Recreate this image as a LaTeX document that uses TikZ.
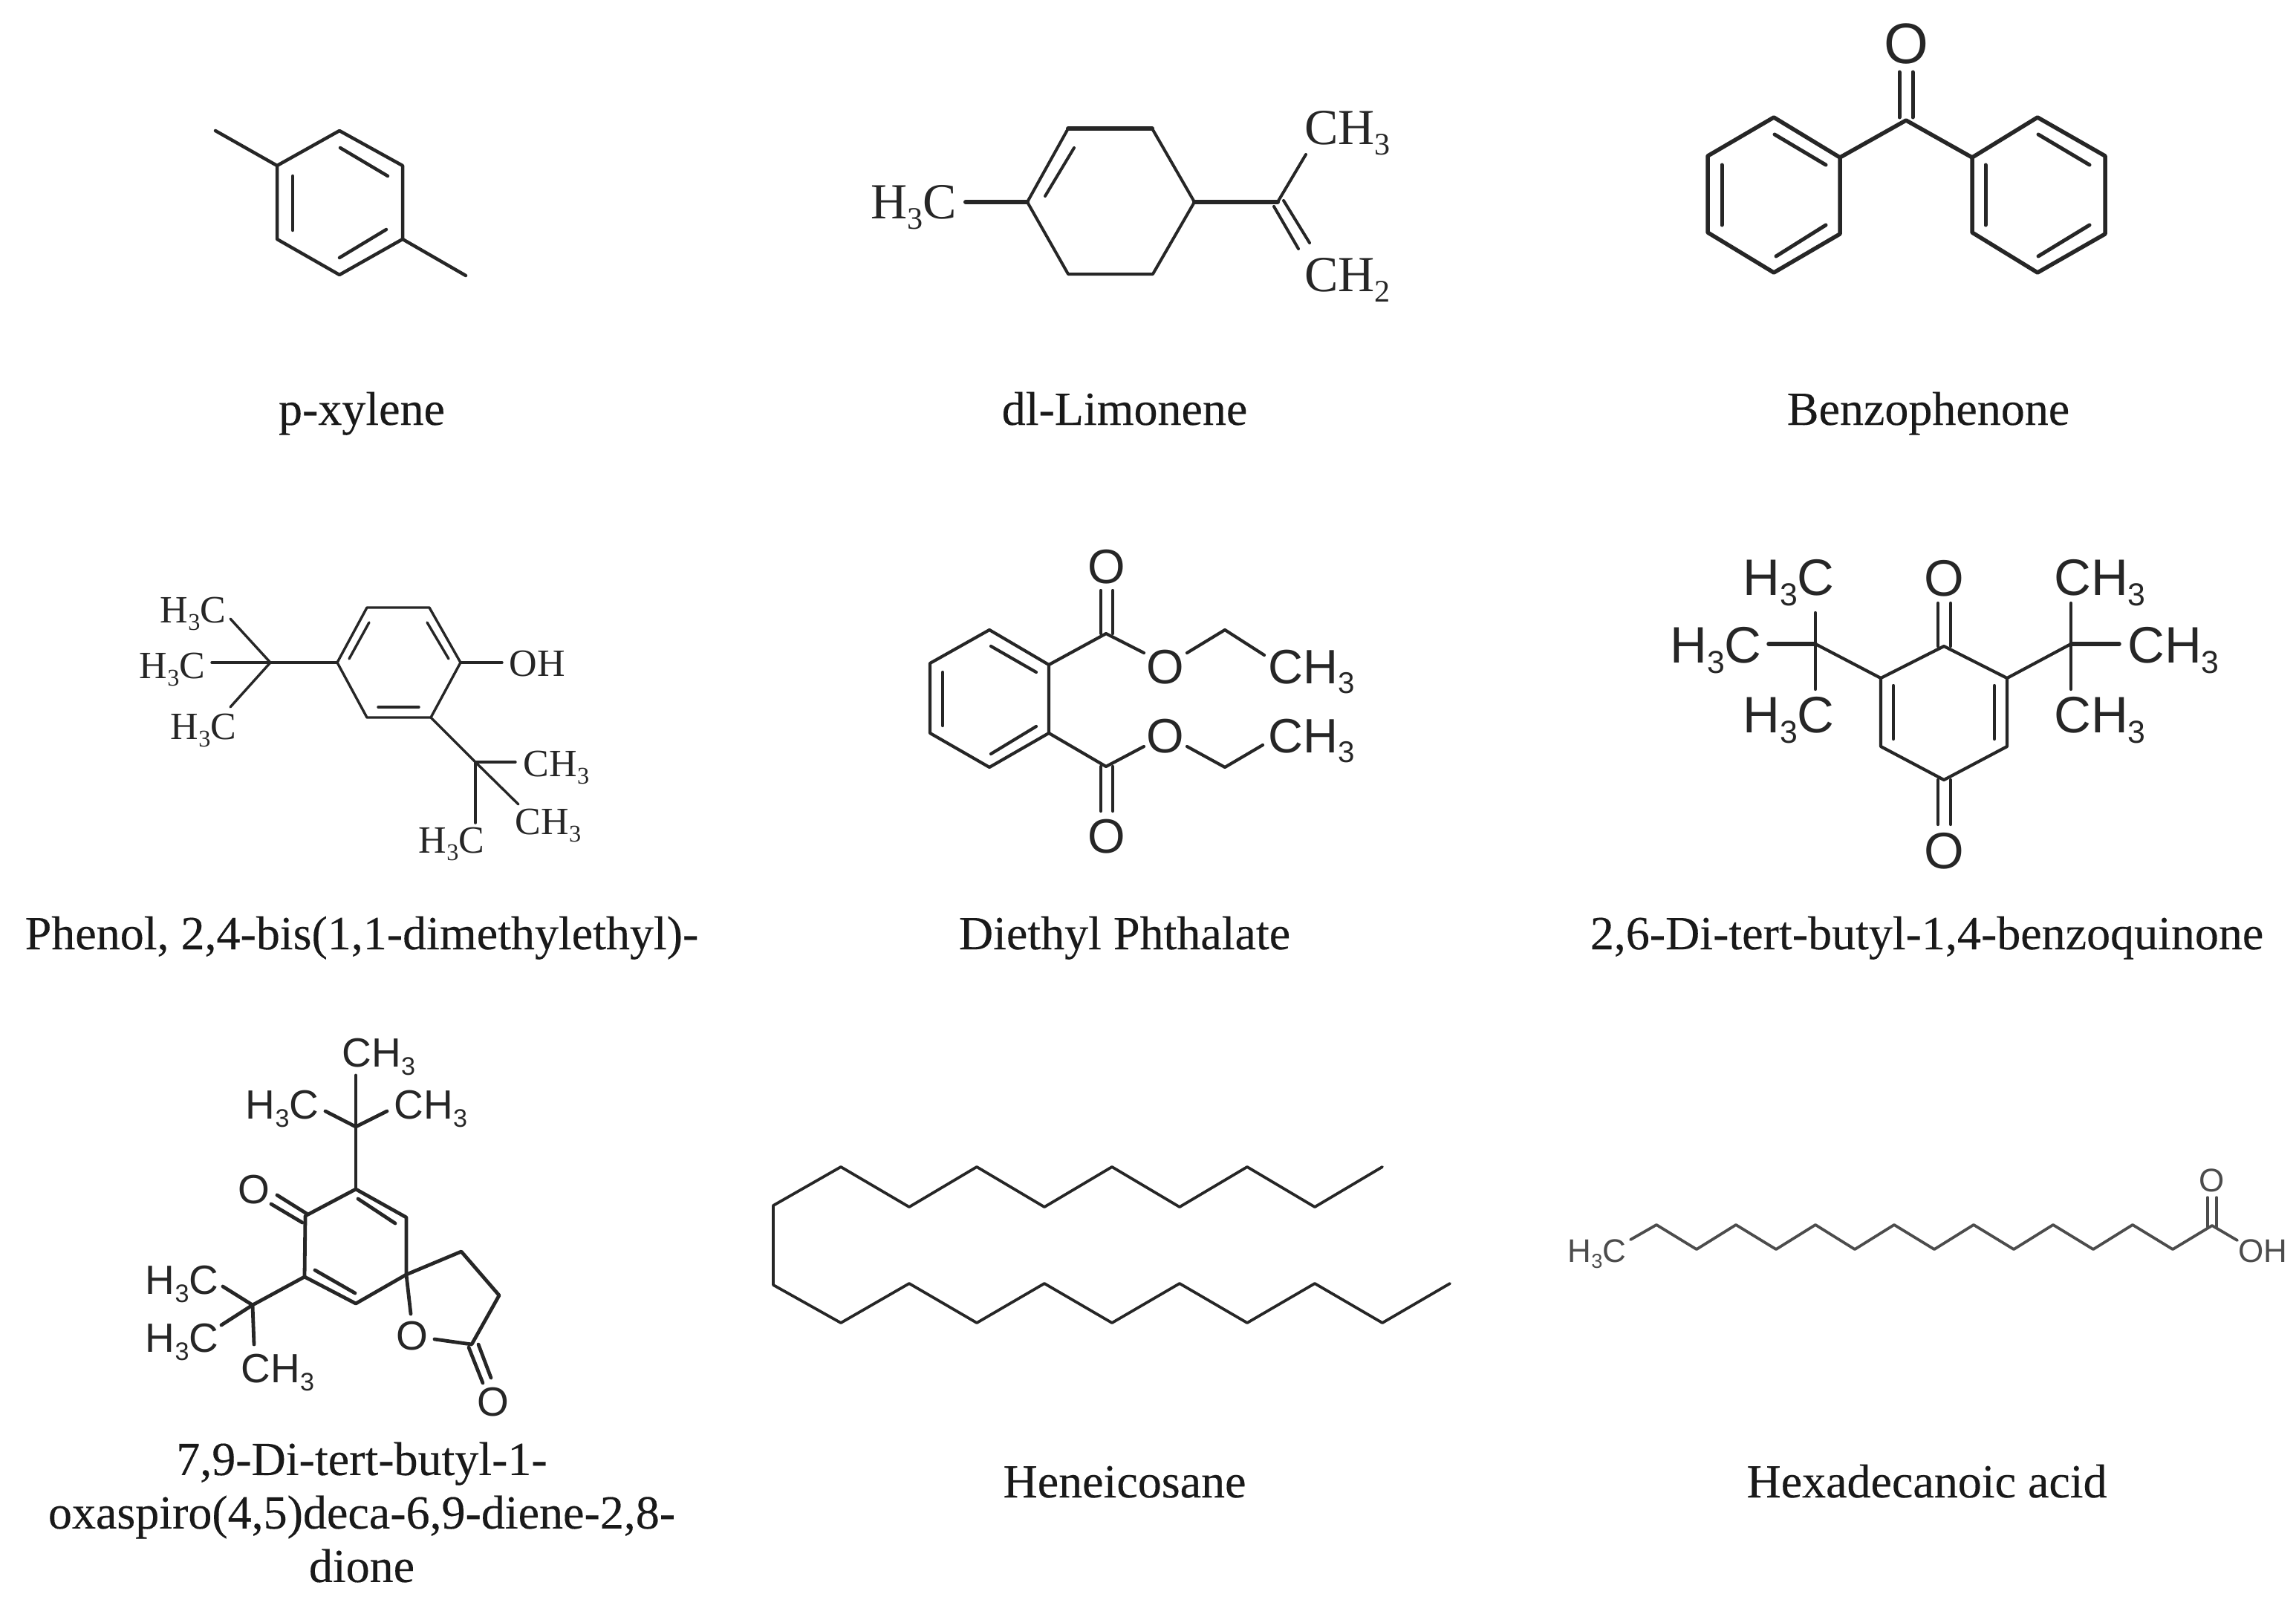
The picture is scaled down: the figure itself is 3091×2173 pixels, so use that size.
\documentclass[tikz,border=0pt]{standalone}
\usepackage{fontspec}
\setmainfont{Liberation Serif}
\newfontfamily\molsans{Liberation Sans}
\newfontfamily\capserif[FakeBold=0.25]{Liberation Serif}
\newcommand{\subn}[1]{\raisebox{-0.2em}{\scalebox{0.62}{#1}}}
\definecolor{inkline}{HTML}{262626}
\tikzset{
  bond/.style={draw=inkline, line width=#1, line cap=round, line join=round},
  bond/.default=4.5pt,
  serifatom/.style 2 args={font=\fontsize{#1}{#1}\selectfont, text=inkline, text height=#2, text depth=0pt},
  sansatom/.style 2 args={font=\molsans\fontsize{#1}{#1}\selectfont, text=inkline, text height=#2, text depth=0pt},
  caption/.style={font=\capserif\fontsize{64}{72}\selectfont, text=black!90, align=center, anchor=base}
}
\begin{document}
\begin{tikzpicture}[x=1pt, y=-1pt, every node/.style={inner sep=0pt, outer sep=0pt}]
\useasboundingbox (0,0) rectangle (3091,2173);
% p-xylene
\coordinate (G1N1) at (373,223);
\coordinate (G1N2) at (457,176);
\coordinate (G1N3) at (542,223);
\coordinate (G1N4) at (542,322);
\coordinate (G1N5) at (457,370);
\coordinate (G1N6) at (373,322);
\coordinate (G1M1) at (290,176);
\coordinate (G1M2) at (627,371);
\coordinate (G1I1) at (394,237);
\coordinate (G1I2) at (394,310);
\coordinate (G1I3) at (458,199);
\coordinate (G1I4) at (522,237);
\coordinate (G1I5) at (457,347);
\coordinate (G1I6) at (520,309);
\draw[bond] (G1N1) -- (G1N2) -- (G1N3) -- (G1N4) -- (G1N5) -- (G1N6) -- cycle;
\draw[bond] (G1N1) -- (G1M1);
\draw[bond] (G1N4) -- (G1M2);
\draw[bond] (G1I1) -- (G1I2);
\draw[bond] (G1I3) -- (G1I4);
\draw[bond] (G1I5) -- (G1I6);
\node[caption] (G1C) at (487,572) {p-xylene};
% dl-Limonene
\coordinate (G2N1) at (1383,272);
\coordinate (G2N2) at (1438,173);
\coordinate (G2N3) at (1551,173);
\coordinate (G2N4) at (1608,272);
\coordinate (G2N5) at (1552,369);
\coordinate (G2N6) at (1438,369);
\coordinate (G2N7) at (1720,272);
\coordinate (G2N8) at (1758,208);
\coordinate (G2N9) at (1300,272);
\coordinate (G2I1) at (1446,199);
\coordinate (G2I2) at (1407,264);
\coordinate (G2E1) at (1728,270);
\coordinate (G2E2) at (1763,327);
\coordinate (G2E3) at (1715,278);
\coordinate (G2E4) at (1748,335);
\node[serifatom={68}{45pt}] (G2L1) at (1230,272) {H\subn{3}C};
\node[serifatom={68}{45pt}] (G2L2) at (1814,172) {CH\subn{3}};
\node[serifatom={68}{45pt}] (G2L3) at (1814,370) {CH\subn{2}};
\draw[bond=4pt] (G2N1) -- (G2N2) -- (G2N3) -- (G2N4) -- (G2N5) -- (G2N6) -- cycle;
\draw[bond=6pt] (G2N2) -- (G2N3);
\draw[bond=6pt] (G2N1) -- (G2N9);
\draw[bond=6pt] (G2N4) -- (G2N7);
\draw[bond=4pt] (G2N7) -- (G2N8);
\draw[bond=4pt] (G2E1) -- (G2E2);
\draw[bond=4pt] (G2E3) -- (G2E4);
\draw[bond=4pt] (G2I1) -- (G2I2);
\node[caption] (G2C) at (1514,572) {dl-Limonene};
% Benzophenone
\coordinate (G3N1) at (2477,212);
\coordinate (G3N2) at (2388,158);
\coordinate (G3N3) at (2299,210);
\coordinate (G3N4) at (2299,313);
\coordinate (G3N5) at (2388,367);
\coordinate (G3N6) at (2477,315);
\coordinate (G3N7) at (2655,212);
\coordinate (G3N8) at (2743,158);
\coordinate (G3N9) at (2834,210);
\coordinate (G3N10) at (2834,315);
\coordinate (G3N11) at (2743,367);
\coordinate (G3N12) at (2655,313);
\coordinate (G3K) at (2566,162);
\coordinate (G3D1) at (2557,97);
\coordinate (G3D2) at (2557,158);
\coordinate (G3D3) at (2575,97);
\coordinate (G3D4) at (2575,158);
\coordinate (G3I1) at (2389,181);
\coordinate (G3I2) at (2458,222);
\coordinate (G3I3) at (2318,222);
\coordinate (G3I4) at (2318,303);
\coordinate (G3I5) at (2391,345);
\coordinate (G3I6) at (2458,303);
\coordinate (G3I7) at (2744,181);
\coordinate (G3I8) at (2813,222);
\coordinate (G3I9) at (2673,222);
\coordinate (G3I10) at (2673,303);
\coordinate (G3I11) at (2744,345);
\coordinate (G3I12) at (2813,303);
\node[sansatom={77}{55pt}] (G3O) at (2566,58) {O};
\draw[bond=5.5pt] (G3N1) -- (G3N2) -- (G3N3) -- (G3N4) -- (G3N5) -- (G3N6) -- cycle;
\draw[bond=5.5pt] (G3N7) -- (G3N8) -- (G3N9) -- (G3N10) -- (G3N11) -- (G3N12) -- cycle;
\draw[bond=5.5pt] (G3N1) -- (G3K) -- (G3N7);
\draw[bond=5pt] (G3D1) -- (G3D2);
\draw[bond=5pt] (G3D3) -- (G3D4);
\draw[bond=5pt] (G3I1) -- (G3I2);
\draw[bond=5pt] (G3I3) -- (G3I4);
\draw[bond=5pt] (G3I5) -- (G3I6);
\draw[bond=5pt] (G3I7) -- (G3I8);
\draw[bond=5pt] (G3I9) -- (G3I10);
\draw[bond=5pt] (G3I11) -- (G3I12);
\node[caption] (G3C) at (2596,572) {Benzophenone};
% Phenol
\coordinate (G4N1) at (494,818);
\coordinate (G4N2) at (578,818);
\coordinate (G4N3) at (620,892);
\coordinate (G4N4) at (580,966);
\coordinate (G4N5) at (494,966);
\coordinate (G4N6) at (454,892);
\coordinate (G4N7) at (364,892);
\coordinate (G4N8) at (640,1026);
\coordinate (G4E1) at (310,833);
\coordinate (G4E2) at (285,892);
\coordinate (G4E3) at (310,952);
\coordinate (G4E4) at (694,1026);
\coordinate (G4E5) at (698,1083);
\coordinate (G4E6) at (640,1108);
\coordinate (G4E7) at (676,892);
\coordinate (G4I1) at (497,838);
\coordinate (G4I2) at (470,887);
\coordinate (G4I3) at (575,838);
\coordinate (G4I4) at (604,887);
\coordinate (G4I5) at (509,952);
\coordinate (G4I6) at (564,952);
\node[serifatom={52}{36pt}] (G4L1) at (260,820) {H\subn{3}C};
\node[serifatom={52}{36pt}] (G4L2) at (232,895) {H\subn{3}C};
\node[serifatom={52}{36pt}] (G4L3) at (274,977) {H\subn{3}C};
\node[serifatom={52}{36pt}] (G4L4) at (723,892) {OH};
\node[serifatom={52}{36pt}] (G4L5) at (749,1027) {CH\subn{3}};
\node[serifatom={52}{36pt}] (G4L6) at (738,1105) {CH\subn{3}};
\node[serifatom={52}{36pt}] (G4L7) at (608,1130) {H\subn{3}C};
\draw[bond=3.4pt] (G4N1) -- (G4N2) -- (G4N3) -- (G4N4) -- (G4N5) -- (G4N6) -- cycle;
\draw[bond=3.4pt] (G4N3) -- (G4E7);
\draw[bond=3.4pt] (G4N6) -- (G4N7);
\draw[bond=3.4pt] (G4N4) -- (G4N8);
\draw[bond=3.4pt] (G4N7) -- (G4E1);
\draw[bond=3.4pt] (G4N7) -- (G4E2);
\draw[bond=3.4pt] (G4N7) -- (G4E3);
\draw[bond=3.4pt] (G4N8) -- (G4E4);
\draw[bond=3.4pt] (G4N8) -- (G4E5);
\draw[bond=3.4pt] (G4N8) -- (G4E6);
\draw[bond=3.4pt] (G4I1) -- (G4I2);
\draw[bond=3.4pt] (G4I3) -- (G4I4);
\draw[bond=3.4pt] (G4I5) -- (G4I6);
\node[caption] (G4C) at (487,1278) {Phenol, 2,4-bis(1,1-dimethylethyl)-};
% Diethyl Phthalate
\coordinate (G5N1) at (1332,848);
\coordinate (G5N2) at (1412,895);
\coordinate (G5N3) at (1412,987);
\coordinate (G5N4) at (1332,1033);
\coordinate (G5N5) at (1252,987);
\coordinate (G5N6) at (1252,893);
\coordinate (G5N7) at (1489,853);
\coordinate (G5N8) at (1489,1032);
\coordinate (G5N9) at (1649,848);
\coordinate (G5N10) at (1649,1033);
\coordinate (G5E1) at (1540,879);
\coordinate (G5E2) at (1598,879);
\coordinate (G5E3) at (1702,882);
\coordinate (G5E4) at (1540,1005);
\coordinate (G5E5) at (1598,1005);
\coordinate (G5E6) at (1700,1003);
\coordinate (G5D1) at (1482,795);
\coordinate (G5D2) at (1482,853);
\coordinate (G5D3) at (1498,795);
\coordinate (G5D4) at (1498,853);
\coordinate (G5D5) at (1482,1032);
\coordinate (G5D6) at (1482,1092);
\coordinate (G5D7) at (1498,1032);
\coordinate (G5D8) at (1498,1092);
\coordinate (G5I1) at (1334,870);
\coordinate (G5I2) at (1395,905);
\coordinate (G5I3) at (1334,1015);
\coordinate (G5I4) at (1395,978);
\coordinate (G5I5) at (1269,905);
\coordinate (G5I6) at (1269,977);
\node[sansatom={65}{47pt}] (G5O1) at (1490,762) {O};
\node[sansatom={65}{47pt}] (G5O2) at (1490,1125) {O};
\node[sansatom={65}{47pt}] (G5O3) at (1569,897) {O};
\node[sansatom={65}{47pt}] (G5O4) at (1569,990) {O};
\node[sansatom={65}{47pt}] (G5L1) at (1766,897) {CH\subn{3}};
\node[sansatom={65}{47pt}] (G5L2) at (1766,990) {CH\subn{3}};
\draw[bond=4.2pt] (G5N1) -- (G5N2) -- (G5N3) -- (G5N4) -- (G5N5) -- (G5N6) -- cycle;
\draw[bond=4.2pt] (G5N2) -- (G5N7) -- (G5E1);
\draw[bond=4.2pt] (G5N3) -- (G5N8) -- (G5E4);
\draw[bond=4.2pt] (G5E2) -- (G5N9) -- (G5E3);
\draw[bond=4.2pt] (G5E5) -- (G5N10) -- (G5E6);
\draw[bond=4.2pt] (G5D1) -- (G5D2);
\draw[bond=4.2pt] (G5D3) -- (G5D4);
\draw[bond=4.2pt] (G5D5) -- (G5D6);
\draw[bond=4.2pt] (G5D7) -- (G5D8);
\draw[bond=4.2pt] (G5I1) -- (G5I2);
\draw[bond=4.2pt] (G5I3) -- (G5I4);
\draw[bond=4.2pt] (G5I5) -- (G5I6);
\node[caption] (G5C) at (1514,1278) {Diethyl Phthalate};
% 2,6-Di-tert-butyl-1,4-benzoquinone
\coordinate (G6N1) at (2617,870);
\coordinate (G6N2) at (2702,913);
\coordinate (G6N3) at (2702,1005);
\coordinate (G6N4) at (2617,1050);
\coordinate (G6N5) at (2532,1005);
\coordinate (G6N6) at (2532,913);
\coordinate (G6N7) at (2444,867);
\coordinate (G6N8) at (2788,867);
\coordinate (G6E1) at (2444,825);
\coordinate (G6E2) at (2381,867);
\coordinate (G6E3) at (2444,928);
\coordinate (G6E4) at (2788,812);
\coordinate (G6E5) at (2853,867);
\coordinate (G6E6) at (2788,928);
\coordinate (G6D1) at (2609,812);
\coordinate (G6D2) at (2609,870);
\coordinate (G6D3) at (2626,812);
\coordinate (G6D4) at (2626,870);
\coordinate (G6D5) at (2609,1050);
\coordinate (G6D6) at (2609,1110);
\coordinate (G6D7) at (2626,1050);
\coordinate (G6D8) at (2626,1110);
\coordinate (G6I1) at (2549,923);
\coordinate (G6I2) at (2549,995);
\coordinate (G6I3) at (2685,923);
\coordinate (G6I4) at (2685,995);
\node[sansatom={69}{49pt}] (G6O1) at (2617,778) {O};
\node[sansatom={69}{49pt}] (G6O2) at (2617,1145) {O};
\node[sansatom={69}{49pt}] (G6L1) at (2408,777) {H\subn{3}C};
\node[sansatom={69}{49pt}] (G6L2) at (2310,868) {H\subn{3}C};
\node[sansatom={69}{49pt}] (G6L3) at (2408,962) {H\subn{3}C};
\node[sansatom={69}{49pt}] (G6L4) at (2827,777) {CH\subn{3}};
\node[sansatom={69}{49pt}] (G6L5) at (2926,868) {CH\subn{3}};
\node[sansatom={69}{49pt}] (G6L6) at (2827,962) {CH\subn{3}};
\draw[bond=4.2pt] (G6N1) -- (G6N2) -- (G6N3) -- (G6N4) -- (G6N5) -- (G6N6) -- cycle;
\draw[bond=4.2pt] (G6N6) -- (G6N7);
\draw[bond=4.2pt] (G6N2) -- (G6N8);
\draw[bond=4.2pt] (G6N7) -- (G6E1);
\draw[bond=5.5pt] (G6N7) -- (G6E2);
\draw[bond=4.2pt] (G6N7) -- (G6E3);
\draw[bond=4.2pt] (G6N8) -- (G6E4);
\draw[bond=5.5pt] (G6N8) -- (G6E5);
\draw[bond=4.2pt] (G6N8) -- (G6E6);
\draw[bond=4.2pt] (G6D1) -- (G6D2);
\draw[bond=4.2pt] (G6D3) -- (G6D4);
\draw[bond=4.2pt] (G6D5) -- (G6D6);
\draw[bond=4.2pt] (G6D7) -- (G6D8);
\draw[bond=4.2pt] (G6I1) -- (G6I2);
\draw[bond=4.2pt] (G6I3) -- (G6I4);
\node[caption] (G6C) at (2594,1278) {2,6-Di-tert-butyl-1,4-benzoquinone};
% 7,9-Di-tert-butyl-1-oxaspiro(4,5)deca-6,9-diene-2,8-dione
\coordinate (G7N1) at (479,1601);
\coordinate (G7N2) at (411,1637);
\coordinate (G7N3) at (410,1719);
\coordinate (G7N4) at (479,1755);
\coordinate (G7N5) at (547,1716);
\coordinate (G7N6) at (547,1639);
\coordinate (G7N7) at (479,1517);
\coordinate (G7N8) at (340,1757);
\coordinate (G7N9) at (621,1685);
\coordinate (G7N10) at (672,1744);
\coordinate (G7N11) at (635,1810);
\coordinate (G7E1) at (479,1448);
\coordinate (G7E2) at (438,1496);
\coordinate (G7E3) at (521,1496);
\coordinate (G7E4) at (300,1732);
\coordinate (G7E5) at (298,1784);
\coordinate (G7E6) at (342,1810);
\coordinate (G7E7) at (553,1769);
\coordinate (G7E8) at (585,1803);
\coordinate (G7D1) at (373,1609);
\coordinate (G7D2) at (413,1634);
\coordinate (G7D3) at (365,1621);
\coordinate (G7D4) at (407,1646);
\coordinate (G7D5) at (631,1814);
\coordinate (G7D6) at (650,1862);
\coordinate (G7D7) at (644,1810);
\coordinate (G7D8) at (661,1855);
\coordinate (G7I1) at (482,1614);
\coordinate (G7I2) at (532,1647);
\coordinate (G7I3) at (424,1710);
\coordinate (G7I4) at (478,1741);
\node[sansatom={55}{39pt}] (G7O1) at (342,1601) {O};
\node[sansatom={55}{39pt}] (G7O2) at (555,1798) {O};
\node[sansatom={55}{39pt}] (G7O3) at (664,1887) {O};
\node[sansatom={55}{39pt}] (G7L1) at (510,1417) {CH\subn{3}};
\node[sansatom={55}{39pt}] (G7L2) at (380,1487) {H\subn{3}C};
\node[sansatom={55}{39pt}] (G7L3) at (580,1487) {CH\subn{3}};
\node[sansatom={55}{39pt}] (G7L4) at (245,1723) {H\subn{3}C};
\node[sansatom={55}{39pt}] (G7L5) at (245,1801) {H\subn{3}C};
\node[sansatom={55}{39pt}] (G7L6) at (374,1842) {CH\subn{3}};
\draw[bond=4.8pt] (G7N1) -- (G7N2) -- (G7N3) -- (G7N4) -- (G7N5) -- (G7N6) -- cycle;
\draw[bond=4.8pt] (G7N1) -- (G7N7);
\draw[bond=4.8pt] (G7N3) -- (G7N8);
\draw[bond=4.8pt] (G7N7) -- (G7E1);
\draw[bond=4.8pt] (G7N7) -- (G7E2);
\draw[bond=4.8pt] (G7N7) -- (G7E3);
\draw[bond=4.8pt] (G7N8) -- (G7E4);
\draw[bond=4.8pt] (G7N8) -- (G7E5);
\draw[bond=4.8pt] (G7N8) -- (G7E6);
\draw[bond=4.8pt] (G7N5) -- (G7N9) -- (G7N10) -- (G7N11) -- (G7E8);
\draw[bond=4.8pt] (G7N5) -- (G7E7);
\draw[bond=4.8pt] (G7D1) -- (G7D2);
\draw[bond=4.8pt] (G7D3) -- (G7D4);
\draw[bond=4.8pt] (G7D5) -- (G7D6);
\draw[bond=4.8pt] (G7D7) -- (G7D8);
\draw[bond=4.8pt] (G7I1) -- (G7I2);
\draw[bond=4.8pt] (G7I3) -- (G7I4);
\node[caption, anchor=center] (G7C) at (487,2036) {7,9-Di-tert-butyl-1-\\oxaspiro(4,5)deca-6,9-diene-2,8-\\dione};
% Heneicosane
\coordinate (G8N1) at (1861,1571);
\coordinate (G8N2) at (1770,1625);
\coordinate (G8N3) at (1679,1571);
\coordinate (G8N4) at (1588,1625);
\coordinate (G8N5) at (1497,1571);
\coordinate (G8N6) at (1406,1625);
\coordinate (G8N7) at (1315,1571);
\coordinate (G8N8) at (1224,1625);
\coordinate (G8N9) at (1132,1571);
\coordinate (G8N10) at (1041,1623);
\coordinate (G8N11) at (1041,1730);
\coordinate (G8N12) at (1132,1781);
\coordinate (G8N13) at (1224,1728);
\coordinate (G8N14) at (1315,1781);
\coordinate (G8N15) at (1406,1728);
\coordinate (G8N16) at (1497,1781);
\coordinate (G8N17) at (1588,1728);
\coordinate (G8N18) at (1679,1781);
\coordinate (G8N19) at (1770,1728);
\coordinate (G8N20) at (1861,1781);
\coordinate (G8N21) at (1952,1728);
\draw[bond=3.8pt] (G8N1) -- (G8N2) -- (G8N3) -- (G8N4) -- (G8N5) -- (G8N6) -- (G8N7) -- (G8N8) -- (G8N9) -- (G8N10) -- (G8N11);
\draw[bond=3.8pt] (G8N11) -- (G8N12) -- (G8N13) -- (G8N14) -- (G8N15) -- (G8N16) -- (G8N17) -- (G8N18) -- (G8N19) -- (G8N20) -- (G8N21);
\node[caption] (G8C) at (1514,2016) {Heneicosane};
% Hexadecanoic acid
\coordinate (G9N1) at (2195,1669);
\coordinate (G9N2) at (2230,1649);
\coordinate (G9N3) at (2284,1682);
\coordinate (G9N4) at (2337,1649);
\coordinate (G9N5) at (2391,1682);
\coordinate (G9N6) at (2444,1649);
\coordinate (G9N7) at (2497,1682);
\coordinate (G9N8) at (2550,1649);
\coordinate (G9N9) at (2604,1682);
\coordinate (G9N10) at (2657,1649);
\coordinate (G9N11) at (2711,1682);
\coordinate (G9N12) at (2764,1649);
\coordinate (G9N13) at (2818,1682);
\coordinate (G9N14) at (2871,1649);
\coordinate (G9N15) at (2925,1682);
\coordinate (G9N16) at (2978,1650);
\coordinate (G9N17) at (3012,1670);
\coordinate (G9D1) at (2972,1612);
\coordinate (G9D2) at (2972,1652);
\coordinate (G9D3) at (2984,1612);
\coordinate (G9D4) at (2984,1652);
\node[sansatom={44}{32pt}, text=black!70] (G9L1) at (2150,1683) {H\subn{3}C};
\node[sansatom={44}{32pt}, text=black!70] (G9L2) at (3046,1683) {OH};
\node[sansatom={44}{32pt}, text=black!70] (G9O) at (2978,1588) {O};
\draw[bond=3.8pt, draw=black!70] (G9N1) -- (G9N2) -- (G9N3) -- (G9N4) -- (G9N5) -- (G9N6) -- (G9N7) -- (G9N8) -- (G9N9) -- (G9N10) -- (G9N11) -- (G9N12) -- (G9N13) -- (G9N14) -- (G9N15) -- (G9N16) -- (G9N17);
\draw[bond=3.4pt, draw=black!70] (G9D1) -- (G9D2);
\draw[bond=3.4pt, draw=black!70] (G9D3) -- (G9D4);
\node[caption] (G9C) at (2594,2016) {Hexadecanoic acid};
\end{tikzpicture}
\end{document}
